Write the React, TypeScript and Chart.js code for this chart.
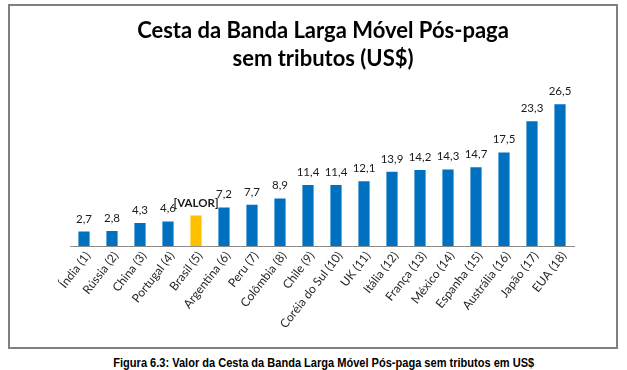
import React, { useEffect, useRef } from "react";
import { Chart, registerables } from "chart.js";

Chart.register(...registerables);

const categories = [
  "Índia (1)", "Rússia (2)", "China (3)", "Portugal (4)", "Brasil (5)", "Argentina (6)",
  "Peru (7)", "Colômbia (8)", "Chile (9)", "Coréia do Sul (10)", "UK (11)", "Itália (12)",
  "França (13)", "México (14)", "Espanha (15)", "Austrália (16)", "Japão (17)", "EUA (18)",
];
const values = [2.7, 2.8, 4.3, 4.6, 5.7, 7.2, 7.7, 8.9, 11.4, 11.4, 12.1, 13.9, 14.2, 14.3, 14.7, 17.5, 23.3, 26.5];
const valueLabels = [
  "2,7", "2,8", "4,3", "4,6", "[VALOR]", "7,2", "7,7", "8,9", "11,4", "11,4", "12,1", "13,9",
  "14,2", "14,3", "14,7", "17,5", "23,3", "26,5",
];
const highlightIndex = 4;
const titleLines = ["Cesta da Banda Larga Móvel Pós-paga", "sem tributos (US$)"];
const caption = "Figura 6.3: Valor da Cesta da Banda Larga Móvel Pós-paga sem tributos em US$";

const BLUE = "#0070C0";
const YELLOW = "#FFC000";

const titlePlugin = {
  id: "customTitle",
  afterDraw(chart: any) {
    const ctx = chart.ctx;
    ctx.save();
    ctx.fillStyle = "#000";
    ctx.font = "bold 22px Lato";
    ctx.textAlign = "center";
    ctx.textBaseline = "alphabetic";
    const cx = chart.width / 2 + 10;
    ctx.fillText(titleLines[0], cx, 32);
    ctx.fillText(titleLines[1], cx, 60);
    ctx.restore();
  },
};

const labelPlugin = {
  id: "valueLabels",
  afterDatasetsDraw(chart: any) {
    const ctx = chart.ctx;
    const meta = chart.getDatasetMeta(0);
    ctx.save();
    ctx.textAlign = "center";
    ctx.textBaseline = "alphabetic";
    meta.data.forEach((bar: any, i: number) => {
      ctx.fillStyle = "#1a1a1a";
      ctx.font = i === highlightIndex ? "bold 11.5px Lato" : "11.5px Lato";
      ctx.fillText(valueLabels[i], bar.x, bar.y - 9);
    });
    ctx.restore();
  },
};

export default function App() {
  const ref = useRef<HTMLCanvasElement>(null);
  useEffect(() => {
    if (!ref.current) return;
    const chart = new Chart(ref.current, {
      type: "bar",
      data: {
        labels: categories,
        datasets: [
          {
            data: values,
            backgroundColor: values.map((_, i) => (i === highlightIndex ? YELLOW : BLUE)),
            categoryPercentage: 1,
            barPercentage: 0.4,
          },
        ],
      },
      options: {
        animation: false,
        responsive: true,
        maintainAspectRatio: false,
        layout: { padding: { left: 60, right: 42, top: 79.5, bottom: 0 } },
        plugins: { legend: { display: false }, tooltip: { enabled: false }, title: { display: false } },
        scales: {
          x: {
            grid: { display: false, drawTicks: false },
            border: { display: true, color: "#8c8c8c", width: 1 },
            ticks: {
              autoSkip: false,
              minRotation: 52,
              maxRotation: 52,
              padding: 3,
              labelOffset: 4,
              color: "#262626",
              font: { family: "Lato", size: 12 },
            },
            afterFit(s: any) {
              s.height = 101;
            },
          },
          y: { display: false, min: 0, max: 30 },
        },
      },
      plugins: [titlePlugin, labelPlugin],
    });
    return () => chart.destroy();
  }, []);
  return (
    <div style={{ position: "absolute", left: 0, top: 0, width: 627, height: 370, background: "#fff" }}>
      <div
        style={{
          position: "absolute",
          left: 8,
          top: 4,
          width: 610,
          height: 345,
          border: "2px solid #808080",
          boxSizing: "border-box",
        }}
      />
      <div style={{ position: "absolute", left: 10, top: 6, width: 606, height: 341 }}>
        <canvas ref={ref} />
      </div>
      <div
        style={{
          position: "absolute",
          left: 0,
          top: 356,
          width: 648,
          textAlign: "center",
          fontFamily: "'Liberation Sans', Arial, sans-serif",
          fontWeight: "bold",
          fontSize: 12,
          lineHeight: "14px",
          color: "#000",
          whiteSpace: "nowrap",
        }}
      >
        <span style={{ display: "inline-block", transform: "scaleX(0.92)", transformOrigin: "center" }}>{caption}</span>
      </div>
    </div>
  );
}
